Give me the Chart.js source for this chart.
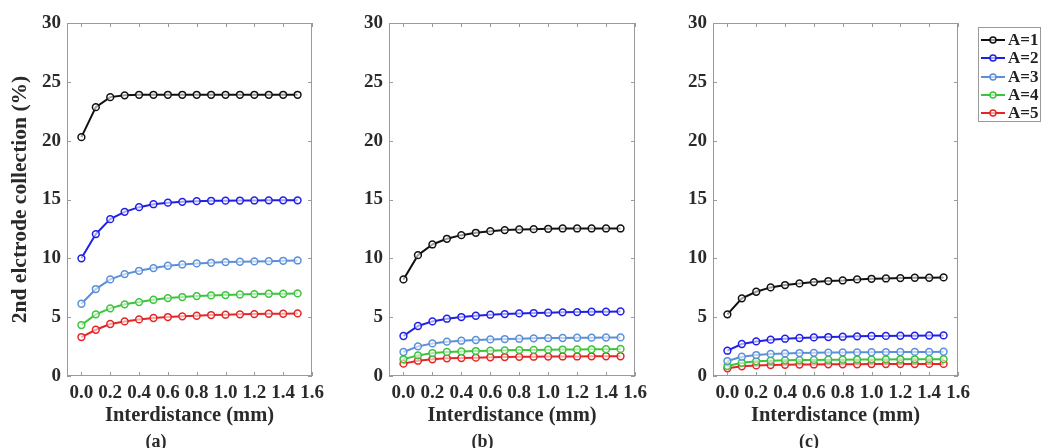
<!DOCTYPE html>
<html lang="en">
<head>
<meta charset="UTF-8" />
<title>2nd electrode collection vs interdistance</title>
<script src="https://cdn.jsdelivr.net/npm/chart.js"></script>
<style>
  html, body { margin: 0; padding: 0; background: #fff; }
  body { width: 1044px; height: 448px; position: relative; overflow: hidden; }
  .panel { position: absolute; top: 0; height: 448px; }
  #legend {
    position: absolute; left: 978px; top: 27px; width: 63px; height: 95px;
    border: 1px solid #9a9a9a; background: #fff; box-sizing: border-box;
    padding-top: 3px;
  }
  .lg-row { height: 18.3px; display: flex; align-items: center; }
  .lg-row canvas { margin-left: 2px; margin-right: 3px; }
  .lg-row span { font: bold 17px "Liberation Serif", serif; color: #222; }
</style>
</head>
<body>
<div class="panel" style="left:0;width:330px"><canvas id="chartA" width="330" height="448"></canvas></div>
<div class="panel" style="left:330px;width:330px"><canvas id="chartB" width="330" height="448"></canvas></div>
<div class="panel" style="left:660px;width:384px"><canvas id="chartC" width="384" height="448"></canvas></div>
<div id="legend"></div>

<script>
const interdistance = [0.0, 0.1, 0.2, 0.3, 0.4, 0.5, 0.6, 0.7, 0.8, 0.9, 1.0, 1.1, 1.2, 1.3, 1.4, 1.5];
const xTicks = [0.0, 0.2, 0.4, 0.6, 0.8, 1.0, 1.2, 1.4, 1.6];
const yTicks = [0, 5, 10, 15, 20, 25, 30];
const seriesLabels = ["A=1", "A=2", "A=3", "A=4", "A=5"];
const seriesColors = ["#111111", "#1f1fe6", "#5b8fd8", "#3cc43c", "#e32626"];

// panel (a)
const a_A1 = [20.3, 22.85, 23.7, 23.85, 23.9, 23.9, 23.9, 23.9, 23.9, 23.9, 23.9, 23.9, 23.9, 23.9, 23.9, 23.9];
const a_A2 = [10.0, 12.06, 13.33, 13.95, 14.35, 14.6, 14.73, 14.8, 14.86, 14.89, 14.9, 14.91, 14.92, 14.93, 14.93, 14.93];
const a_A3 = [6.14, 7.39, 8.21, 8.66, 8.94, 9.17, 9.37, 9.48, 9.57, 9.62, 9.68, 9.71, 9.74, 9.76, 9.79, 9.82];
const a_A4 = [4.33, 5.24, 5.75, 6.09, 6.28, 6.48, 6.62, 6.71, 6.79, 6.85, 6.88, 6.93, 6.96, 6.99, 6.99, 7.02];
const a_A5 = [3.31, 3.93, 4.42, 4.64, 4.81, 4.93, 5.01, 5.07, 5.12, 5.18, 5.21, 5.24, 5.26, 5.29, 5.29, 5.32];

// panel (b)
const b_A1 = [8.21, 10.27, 11.18, 11.66, 11.97, 12.17, 12.31, 12.4, 12.45, 12.48, 12.51, 12.54, 12.54, 12.54, 12.54, 12.54];
const b_A2 = [3.4, 4.25, 4.64, 4.87, 5.01, 5.12, 5.21, 5.26, 5.32, 5.35, 5.38, 5.41, 5.43, 5.46, 5.46, 5.49];
const b_A3 = [2.04, 2.52, 2.77, 2.92, 3.0, 3.06, 3.11, 3.14, 3.17, 3.2, 3.22, 3.23, 3.25, 3.26, 3.27, 3.28];
const b_A4 = [1.42, 1.75, 1.95, 2.04, 2.09, 2.12, 2.15, 2.18, 2.2, 2.22, 2.24, 2.25, 2.26, 2.27, 2.28, 2.3];
const b_A5 = [1.05, 1.3, 1.42, 1.5, 1.53, 1.56, 1.59, 1.61, 1.63, 1.64, 1.65, 1.66, 1.66, 1.67, 1.68, 1.68];

// panel (c)
const c_A1 = [5.24, 6.6, 7.16, 7.53, 7.73, 7.87, 7.98, 8.07, 8.12, 8.21, 8.26, 8.29, 8.32, 8.35, 8.35, 8.38];
const c_A2 = [2.15, 2.72, 2.94, 3.09, 3.17, 3.23, 3.28, 3.31, 3.34, 3.37, 3.4, 3.41, 3.42, 3.43, 3.44, 3.45];
const c_A3 = [1.27, 1.64, 1.78, 1.87, 1.92, 1.95, 1.97, 1.99, 2.0, 2.01, 2.02, 2.03, 2.04, 2.05, 2.05, 2.06];
const c_A4 = [0.85, 1.13, 1.25, 1.3, 1.33, 1.35, 1.37, 1.38, 1.39, 1.4, 1.41, 1.41, 1.42, 1.42, 1.43, 1.43];
const c_A5 = [0.65, 0.82, 0.9, 0.93, 0.95, 0.97, 0.98, 0.99, 1.0, 1.0, 1.01, 1.01, 1.02, 1.02, 1.03, 1.03];

const serif = "'Liberation Serif', 'Times New Roman', serif";
const textColor = "#2a2a2a";
const frameColor = "#9a9a9a";

// matlab-like box with inward ticks on all four sides
const framePlugin = {
  id: "frame",
  afterDraw(chart) {
    const { ctx, chartArea: ca, scales } = chart;
    const len = 4;
    ctx.save();
    ctx.strokeStyle = frameColor;
    ctx.lineWidth = 1;
    ctx.strokeRect(ca.left + 0.5, ca.top + 0.5, ca.width - 1, ca.height - 1);
    ctx.beginPath();
    xTicks.forEach(v => {
      const px = Math.round(scales.x.getPixelForValue(v)) + 0.5;
      ctx.moveTo(px, ca.bottom); ctx.lineTo(px, ca.bottom - len);
      ctx.moveTo(px, ca.top); ctx.lineTo(px, ca.top + len);
    });
    yTicks.forEach(v => {
      const py = Math.round(scales.y.getPixelForValue(v)) + 0.5;
      ctx.moveTo(ca.left, py); ctx.lineTo(ca.left + len, py);
      ctx.moveTo(ca.right, py); ctx.lineTo(ca.right - len, py);
    });
    ctx.stroke();
    ctx.restore();
  }
};

function makeChart(id, series, tag, yWidth, padRight, showYTitle) {
  new Chart(document.getElementById(id), {
    type: "line",
    data: {
      datasets: series.map((vals, i) => ({
        label: seriesLabels[i],
        data: interdistance.map((x, j) => ({ x: x, y: vals[j] })),
        borderColor: seriesColors[i],
        borderWidth: 2,
        pointRadius: 3.4,
        pointBorderWidth: 1.5,
        pointBorderColor: seriesColors[i],
        pointBackgroundColor: "rgba(255,255,255,0.6)",
        tension: 0
      }))
    },
    options: {
      responsive: false,
      animation: false,
      devicePixelRatio: 1,
      layout: { padding: { top: 23, right: padRight, left: 0, bottom: -3 } },
      plugins: {
        legend: { display: false },
        tooltip: { enabled: false },
        title: {
          display: true,
          position: "bottom",
          text: tag,
          color: textColor,
          font: { family: serif, size: 18, weight: "bold", lineHeight: 1 },
          padding: { top: 3, bottom: 0 }
        }
      },
      scales: {
        x: {
          type: "linear",
          min: -0.1,
          max: 1.6,
          afterBuildTicks: s => { s.ticks = xTicks.map(v => ({ value: v })); },
          afterFit: s => { s.height = 54; },
          grid: { display: false, drawTicks: false },
          border: { display: false },
          ticks: {
            autoSkip: false,
            maxRotation: 0,
            padding: 6,
            color: textColor,
            font: { family: serif, size: 19, weight: "bold" },
            callback: v => v.toFixed(1)
          },
          title: {
            display: true,
            text: "Interdistance (mm)",
            color: textColor,
            font: { family: serif, size: 20.5, weight: "bold" },
            padding: { top: 0, bottom: 1.5 }
          }
        },
        y: {
          min: 0,
          max: 30,
          afterBuildTicks: s => { s.ticks = yTicks.map(v => ({ value: v })); },
          afterFit: s => { s.width = yWidth; },
          grid: { display: false, drawTicks: false },
          border: { display: false },
          ticks: {
            padding: 6,
            color: textColor,
            font: { family: serif, size: 19, weight: "bold" }
          },
          title: {
            display: showYTitle,
            text: "2nd elctrode collection (%)",
            color: textColor,
            font: { family: serif, size: 21.5, weight: "bold" },
            padding: { top: 8, bottom: 0 }
          }
        }
      }
    },
    plugins: [framePlugin]
  });
}

makeChart("chartA", [a_A1, a_A2, a_A3, a_A4, a_A5], "(a)", 67, 18, true);
makeChart("chartB", [b_A1, b_A2, b_A3, b_A4, b_A5], "(b)", 59, 25, false);
makeChart("chartC", [c_A1, c_A2, c_A3, c_A4, c_A5], "(c)", 53, 86, false);

// legend: line with an open circle, then the label
const legend = document.getElementById("legend");
seriesLabels.forEach((label, i) => {
  const row = document.createElement("div");
  row.className = "lg-row";
  const cv = document.createElement("canvas");
  cv.width = 24; cv.height = 12;
  const g = cv.getContext("2d");
  g.strokeStyle = seriesColors[i];
  g.lineWidth = 2;
  g.beginPath(); g.moveTo(0, 6); g.lineTo(24, 6); g.stroke();
  g.fillStyle = "rgba(255,255,255,0.6)";
  g.lineWidth = 1.5;
  g.beginPath(); g.arc(12, 6, 3, 0, Math.PI * 2); g.fill(); g.stroke();
  const sp = document.createElement("span");
  sp.textContent = label;
  row.appendChild(cv);
  row.appendChild(sp);
  legend.appendChild(row);
});
</script>
</body>
</html>
